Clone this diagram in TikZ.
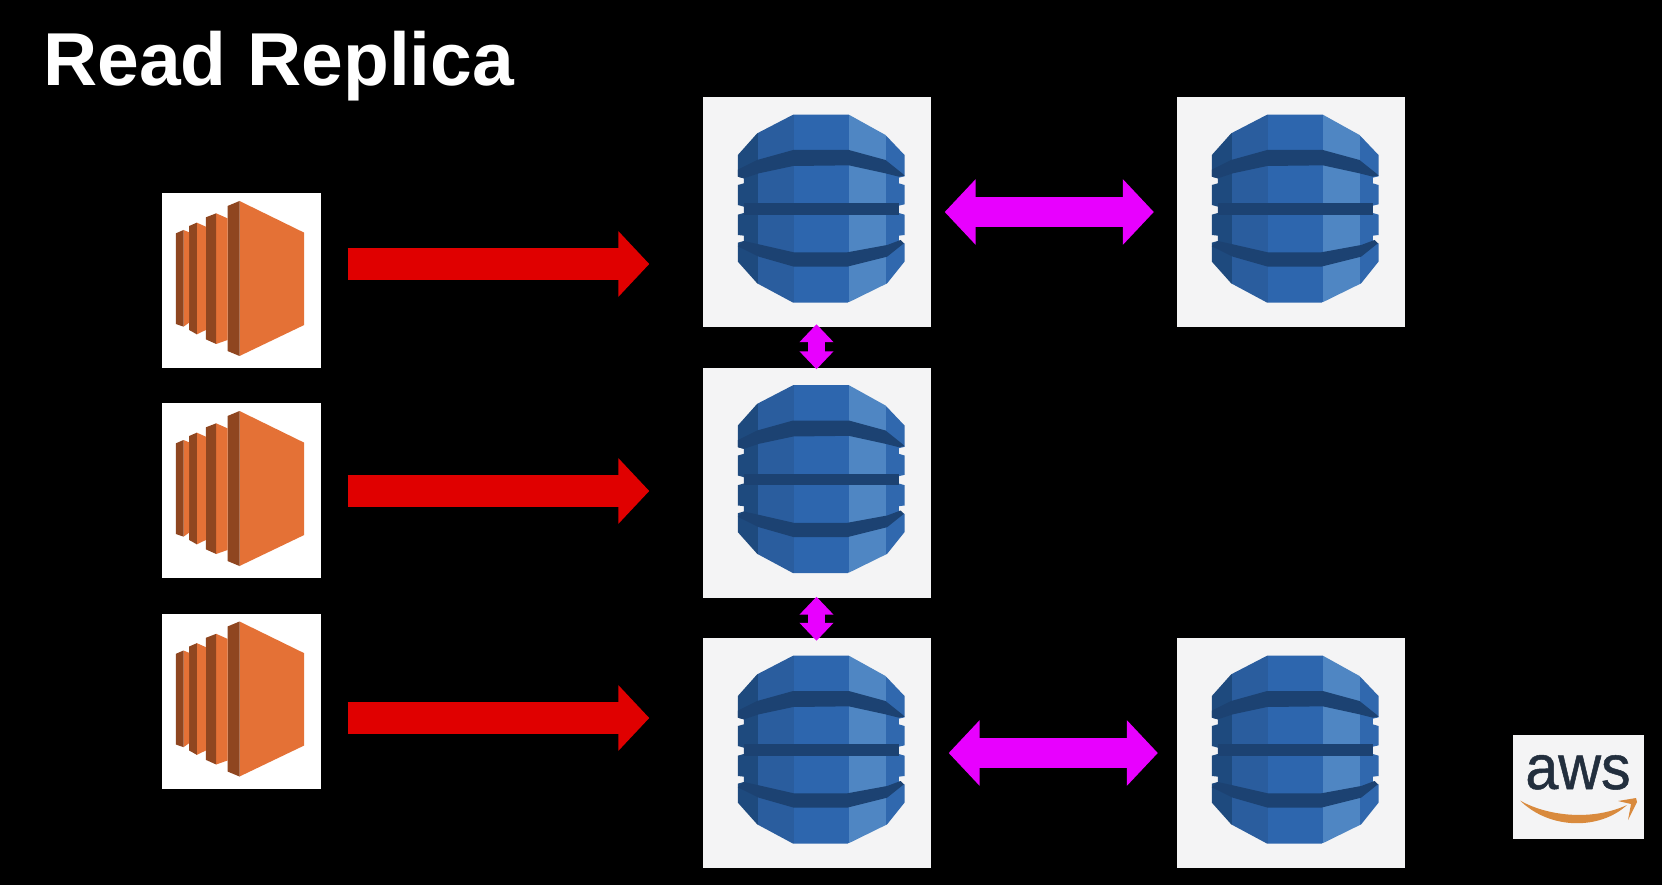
\documentclass[tikz,border=0pt]{standalone}
\usepackage{fontspec}
\usetikzlibrary{arrows.meta,positioning}
\newfontfamily\titlefont{Liberation Sans}
\newfontfamily\awsfont[FakeBold=0.8]{Liberation Sans}
\definecolor{dbfar}{HTML}{1E4A7E}
\definecolor{dbleft}{HTML}{2A5D9E}
\definecolor{dbmid}{HTML}{2D66AE}
\definecolor{dblight}{HTML}{4F86C3}
\definecolor{dbright}{HTML}{3068AE}
\definecolor{dbband}{HTML}{1C4272}
\definecolor{eclight}{HTML}{E47136}
\definecolor{ecdark}{HTML}{8F4620}
\definecolor{boxgrey}{HTML}{F4F4F5}
\definecolor{redflow}{HTML}{E00000}
\definecolor{syncflow}{HTML}{E800FF}
\definecolor{awsink}{HTML}{232F3E}
\definecolor{awssmile}{HTML}{D98A3D}
\tikzset{
	dbbox/.style={fill=boxgrey,minimum width=228pt,minimum height=230pt,inner sep=0pt},
	ecbox/.style={fill=white,minimum width=159pt,minimum height=175pt,inner sep=0pt},
	readflow/.style={draw=redflow,line width=32pt,-{Triangle[length=31pt,width=64pt]}},
	syncflow big/.style={draw=syncflow,line width=30pt,{Triangle[length=31pt,width=64pt]}-{Triangle[length=31pt,width=64pt]}},
	syncflow small/.style={draw=syncflow,line width=17pt,{Triangle[length=18pt,width=33pt]}-{Triangle[length=18pt,width=33pt]}},
	pics/dbicon/.style={code={
		\begin{scope}[scale=1/3,shift={(-407,-397)}]
			\begin{scope}
				\clip (337,105) -- (504,105) -- (614,166) -- (671,226) -- (671,290) -- (654,294) -- (654,311) -- (671,316)
				-- (671,374) -- (654,378) -- (654,400) -- (671,405) -- (671,466) -- (654,468) -- (654,486) -- (671,491)
				-- (671,546) -- (619,611) -- (501,669) -- (337,669) -- (229,611) -- (171,546) -- (171,489) -- (189,484) -- (189,468)
				-- (171,466) -- (171,405) -- (189,400) -- (189,381) -- (171,376) -- (171,316) -- (189,311) -- (189,296)
				-- (171,291) -- (171,226) -- (229,161) -- cycle;
				\fill[dbfar] (165,100) rectangle (232,675);
				\fill[dbleft] (232,100) rectangle (338,675);
				\fill[dbmid] (338,100) rectangle (503,675);
				\fill[dblight] (503,100) rectangle (616,675);
				\fill[dbright] (616,100) rectangle (680,675);
			\end{scope}
			\fill[dbband] (171,270) -- (229,241) -- (337,211) -- (504,211) -- (614,241) -- (664,281) -- (671,288) -- (654,291) -- (614,281) -- (504,257) -- (337,259) -- (234,281) -- (189,296) -- (171,291) -- cycle;
			\fill[dbband] (189,370) rectangle (654,405);
			\fill[dbband] (189,484) -- (234,494) -- (339,518) -- (499,518) -- (619,496) -- (659,481) -- (669,491) -- (619,531) -- (499,561) -- (339,561) -- (234,531) -- (171,500) -- cycle;
		\end{scope}
	}},
	pics/ecicon/.style={code={
		\begin{scope}[scale=1/3,shift={(-302.5,-331.5)}]
			\fill[eclight] (298,93) -- (492,188) -- (492,465) -- (298,558) -- cycle;
			\fill[ecdark] (262,108) -- (298,93) -- (298,558) -- (262,543) -- cycle;
			\fill[eclight] (228,130) -- (262,145) -- (262,510) -- (228,522) -- cycle;
			\fill[ecdark] (197,142) -- (228,130) -- (228,522) -- (197,508) -- cycle;
			\fill[eclight] (170,158) -- (197,170) -- (197,480) -- (170,493) -- cycle;
			\fill[ecdark] (147,168) -- (170,158) -- (170,493) -- (147,480) -- cycle;
			\fill[eclight] (130,180) -- (147,187) -- (147,458) -- (130,470) -- cycle;
			\fill[ecdark] (107,190) -- (130,180) -- (130,470) -- (107,462) -- cycle;
		\end{scope}
	}}
}
\begin{document}
\begin{tikzpicture}[x=1pt,y=-1pt,node distance=270pt,on grid]
	\fill[black] (0,0) rectangle (1662,885);
	\useasboundingbox (0,0) rectangle (1662,885);
	\node[anchor=base west,text=white,inner sep=0pt,font=\titlefont\bfseries\fontsize{75}{75}\selectfont] (title) at (43,86) {Read Replica};
	% clients
	\node[ecbox] (ec_0) at (241,280.5) {};
	\node[ecbox] (ec_1) [below=210pt of ec_0] {};
	\node[ecbox] (ec_2) [below=210.5pt of ec_1] {};
	% tables
	\node[dbbox] (db_0) at (816.5,212) {};
	\node[dbbox] (db_1) [below=270.5pt of db_0] {};
	\node[dbbox] (db_2) [below=270.5pt of db_1] {};
	\node[dbbox] (db_3) [right=474pt of db_0] {};
	\node[dbbox] (db_4) [right=474pt of db_2] {};
	\path (ec_0) pic {ecicon} (ec_1) pic {ecicon} (ec_2) pic {ecicon};
	\path (db_0) pic {dbicon} (db_1) pic {dbicon} (db_2) pic {dbicon} (db_3) pic {dbicon} (db_4) pic {dbicon};
	% flows
	\draw[readflow,shorten <=27pt,shorten >=53pt] ([yshift=16.5pt]ec_0.east) -- ([yshift=-52pt]db_0.west);
	\draw[readflow,shorten <=27pt,shorten >=53pt] ([yshift=-0.5pt]ec_1.east) -- ([yshift=-8.5pt]db_1.west);
	\draw[readflow,shorten <=27pt,shorten >=53pt] ([yshift=-17pt]ec_2.east) -- ([yshift=35pt]db_2.west);
	\draw[syncflow big,shorten <=14pt,shorten >=22.5pt] (db_0) -- (db_3);
	\draw[syncflow big,shorten <=18pt,shorten >=18.5pt] (db_2) -- (db_4);
	\draw[syncflow small,shorten <=-3pt,shorten >=-2pt] (db_0) -- (db_1);
	\draw[syncflow small,shorten <=-1pt,shorten >=-3pt] (db_1) -- (db_2);
	% logo
	\node[fill=boxgrey,minimum width=131pt,minimum height=104pt,inner sep=0pt] (awsbox) at (1578.5,787) {};
	\node[text=awsink,inner sep=0pt,anchor=base,xscale=.94,transform shape,font=\awsfont\fontsize{63}{63}\selectfont] (awstext) at (1578,789) {aws};
	\fill[awssmile] (1520,800.5) .. controls (1545,815) and (1590,822) .. (1627,805) .. controls (1600,830) and (1550,830) .. cycle;
	\fill[awssmile] (1618,801) -- (1636,798) -- (1637,802) -- (1628,820) -- (1631,804) -- cycle;
\end{tikzpicture}
\end{document}
